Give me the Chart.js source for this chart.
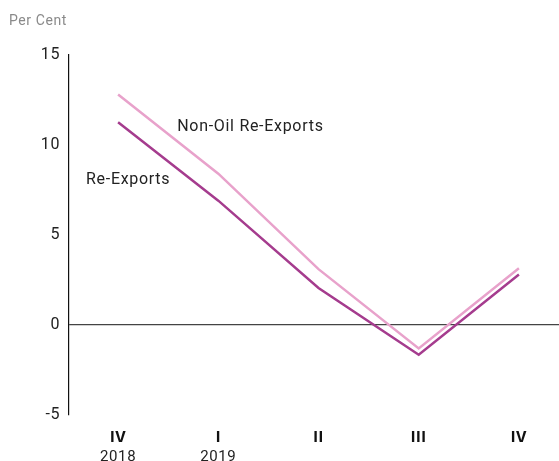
<!DOCTYPE html>
<html>
<head>
<meta charset="utf-8">
<script src="https://cdn.jsdelivr.net/npm/chart.js@4"></script>
<style>
  html, body { margin: 0; padding: 0; background: #fff; }
  #wrap { width: 559px; height: 461px; }
</style>
</head>
<body>
<div id="wrap"><canvas id="myChart"></canvas></div>
<script>
// DATA
const quarters = ["IV", "I", "II", "III", "IV"];
const years = ["2018", "2019", "", "", ""];
const reExports = [11.25, 6.9, 2.05, -1.65, 2.8];
const nonOilReExports = [12.8, 8.4, 3.1, -1.3, 3.15];
const yTicks = [-5, 0, 5, 10, 15];

const font = "Roboto, 'DejaVu Sans', sans-serif";

// LINE LABELS, PLACED IN DATA UNITS
const lineLabels = [
  { text: "Non-Oil Re-Exports", x: 0.59, y: 11.0 },
  { text: "Re-Exports", x: -0.32, y: 8.05 }
];

// WIDER LETTER SPACING, LIKE THE ORIGINAL TYPEFACE
const spacingPlugin = {
  id: "spacing",
  beforeLayout(chart) { chart.ctx.letterSpacing = "0.6px"; },
  beforeDraw(chart) { chart.ctx.letterSpacing = "0.6px"; }
};

const labelPlugin = {
  id: "lineLabels",
  afterDatasetsDraw(chart) {
    const ctx = chart.ctx;
    const xs = chart.scales.x, ys = chart.scales.y;
    ctx.save();
    ctx.font = "16px " + font;
    ctx.letterSpacing = "0.7px";
    ctx.fillStyle = "#222";
    ctx.textBaseline = "middle";
    ctx.textAlign = "left";
    lineLabels.forEach(l => {
      ctx.fillText(l.text, xs.getPixelForValue(l.x), ys.getPixelForValue(l.y));
    });
    ctx.restore();
  }
};

const toPoints = arr => arr.map((v, i) => ({ x: i, y: v }));
const fixTicks = scale => { scale.ticks = quarters.map((q, i) => ({ value: i })); };

new Chart(document.getElementById("myChart"), {
  type: "line",
  data: {
    datasets: [
      {
        label: "Non-Oil Re-Exports",
        data: toPoints(nonOilReExports),
        borderColor: "#e8a2cb",
        borderWidth: 2.5,
        pointRadius: 0,
        tension: 0
      },
      {
        label: "Re-Exports",
        data: toPoints(reExports),
        borderColor: "#a53c8e",
        borderWidth: 2.5,
        pointRadius: 0,
        tension: 0
      }
    ]
  },
  options: {
    responsive: true,
    maintainAspectRatio: false,
    animation: false,
    layout: { padding: { left: 9, right: 0, top: 0, bottom: 0 } },
    scales: {
      x: {
        type: "linear",
        position: "bottom",
        weight: 0,
        min: -0.49,
        max: 4.4,
        afterBuildTicks: fixTicks,
        afterFit: s => { s.height = 27; },
        grid: { display: false },
        border: { display: false },
        ticks: {
          padding: 6,
          autoSkip: false,
          maxRotation: 0,
          color: "#111",
          font: { family: font, size: 16, weight: "bold" },
          callback: v => quarters[v]
        }
      },
      x2: {
        type: "linear",
        position: "bottom",
        weight: 1,
        min: -0.49,
        max: 4.4,
        afterBuildTicks: fixTicks,
        afterFit: s => { s.height = 19; },
        grid: { display: false },
        border: { display: false },
        ticks: {
          padding: -2,
          autoSkip: false,
          maxRotation: 0,
          color: "#222",
          font: { family: font, size: 15 },
          callback: v => years[v]
        }
      },
      y: {
        min: -5,
        max: 15,
        afterBuildTicks: s => { s.ticks = yTicks.map(v => ({ value: v })); },
        afterFit: s => { s.width = 60; },
        grid: {
          drawTicks: false,
          color: c => (c.tick && c.tick.value === 0 ? "#444" : "rgba(0,0,0,0)"),
          lineWidth: 1.2
        },
        border: { display: true, color: "#111", width: 1.2 },
        ticks: {
          padding: 9,
          color: "#222",
          font: { family: font, size: 16 }
        }
      }
    },
    plugins: {
      legend: { display: false },
      tooltip: { enabled: false },
      title: {
        display: true,
        text: "Per Cent",
        align: "start",
        color: "#8a8a8a",
        font: { family: font, size: 14, weight: "normal" },
        padding: { top: 13, bottom: 25 }
      }
    }
  },
  plugins: [spacingPlugin, labelPlugin]
});
</script>
</body>
</html>
